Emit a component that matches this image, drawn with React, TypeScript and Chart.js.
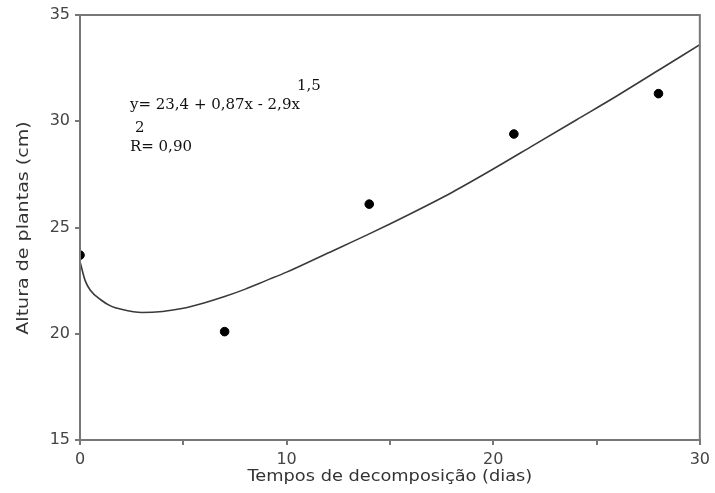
import React, { useEffect, useRef } from "react";
import { Chart, registerables } from "chart.js";

Chart.register(...registerables);

const obsDays = [0, 7, 14, 21, 28];
const obsHeight = [23.7, 20.1, 26.1, 29.4, 31.3];

const fitDays = [0, 0.25, 0.5, 1, 1.5, 2, 3, 4, 5, 6, 7, 8, 9, 10, 12, 14, 16, 18, 20, 22, 24, 26, 28, 30];
const fitHeight = [23.4, 22.5, 22.05, 21.6, 21.3, 21.15, 21.0, 21.05, 21.2, 21.45, 21.75, 22.1, 22.5, 22.9, 23.8, 24.7, 25.65, 26.65, 27.75, 28.9, 30.05, 31.2, 32.4, 33.6];

const xTitle = "Tempos de decomposição (dias)";
const yTitle = "Altura de plantas (cm)";
const eqMain = "y= 23,4 + 0,87x - 2,9x";
const eqExp = "1,5";
const r2Sup = "2";
const r2Text = "R= 0,90";

const AXIS = "#777777";

function stretched(ctx: any, text: string, x: number, y: number, sx: number, align: string, rot = 0) {
  ctx.save();
  ctx.translate(x, y);
  if (rot) ctx.rotate(rot);
  ctx.scale(sx, 1);
  ctx.textAlign = align;
  ctx.textBaseline = "middle";
  ctx.fillText(text, 0, 0);
  ctx.restore();
}

const decorPlugin = {
  id: "decor",
  afterDraw(chart: any) {
    const { ctx, chartArea } = chart;
    const { left, top, right, bottom } = chartArea;
    ctx.save();
    ctx.strokeStyle = AXIS;
    ctx.lineWidth = 2;
    ctx.strokeRect(left, top, right - left, bottom - top);

    ctx.fillStyle = "#333";
    ctx.font = "16px 'DejaVu Sans'";
    stretched(ctx, xTitle, (left + right) / 2, 477, 1.11, "center");
    stretched(ctx, yTitle, 24, 228, 1.19, "center", -Math.PI / 2);

    ctx.fillStyle = "#111";
    ctx.font = "14px 'DejaVu Serif'";
    stretched(ctx, eqMain, 130, 105, 1.07, "left");
    stretched(ctx, eqExp, 297, 86, 1.07, "left");
    stretched(ctx, r2Sup, 135, 128, 1.07, "left");
    stretched(ctx, r2Text, 130, 147, 1.07, "left");
    ctx.restore();
  },
};

export default function App() {
  const ref = useRef<HTMLCanvasElement>(null);
  useEffect(() => {
    document.body.style.margin = "0";
    const chart = new Chart(ref.current!, {
      type: "scatter",
      data: {
        datasets: [
          {
            data: fitDays.map((d, i) => ({ x: d, y: fitHeight[i] })),
            showLine: true,
            borderColor: "#3a3a3a",
            borderWidth: 1.6,
            pointRadius: 0,
            cubicInterpolationMode: "monotone",
          },
          {
            data: obsDays.map((d, i) => ({ x: d, y: obsHeight[i] })),
            backgroundColor: "#000",
            borderColor: "#000",
            pointRadius: 4.3,
            showLine: false,
          },
        ],
      },
      options: {
        animation: false,
        responsive: false,
        layout: { padding: { top: 15, right: 11, left: 0, bottom: 0 } },
        plugins: { legend: { display: false }, tooltip: { enabled: false } },
        scales: {
          x: {
            type: "linear",
            min: 0,
            max: 30,
            afterFit: (s: any) => { s.height = 53; },
            ticks: {
              stepSize: 5,
              autoSkip: false,
              maxRotation: 0,
              padding: 5,
              color: "#444",
              font: { family: "'DejaVu Sans'", size: 16 },
              callback: (v: any) => (v % 10 === 0 ? String(v) : ""),
            },
            grid: { drawOnChartArea: false, drawTicks: true, tickLength: 5, color: AXIS, lineWidth: 2 },
            border: { color: AXIS, width: 2 },
          },
          y: {
            min: 15,
            max: 35,
            afterFit: (s: any) => { s.width = 80; },
            ticks: {
              stepSize: 5,
              padding: 5,
              color: "#444",
              font: { family: "'DejaVu Sans'", size: 16 },
            },
            grid: { drawOnChartArea: false, drawTicks: true, tickLength: 5, color: AXIS, lineWidth: 2 },
            border: { color: AXIS, width: 2 },
          },
        },
      },
      plugins: [decorPlugin],
    } as any);
    return () => chart.destroy();
  }, []);
  return <canvas ref={ref} width={715} height={493} style={{ display: "block" }} />;
}
